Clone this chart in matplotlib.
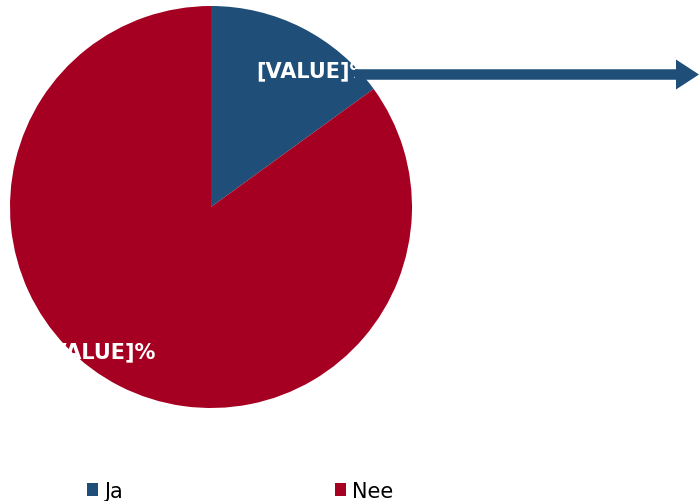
import matplotlib.pyplot as plt
from matplotlib.patches import FancyArrow, Patch

labels = ['Ja', 'Nee']
values = [15, 85]
colors = ['#1F4E79', '#A50021']
value_texts = ['[VALUE]%', '[VALUE]%']
label_pos = [(0.51, 0.68), (-0.56, -0.72)]

W, H = 699, 502
fig = plt.figure(figsize=(W / 100, H / 100), dpi=100)

# pie axes, placed in pixels
cx, cy, r = 211, 208, 201
ax = fig.add_axes([(cx - r) / W, (H - cy - r) / H, 2 * r / W, 2 * r / H])
ax.pie(values, colors=colors, startangle=90, counterclock=False,
       wedgeprops=dict(linewidth=0))
ax.set_xlim(-1, 1)
ax.set_ylim(-1, 1)
ax.set_aspect('equal')
ax.axis('off')

for txt, (x, y) in zip(value_texts, label_pos):
    ax.text(x, y, txt, color='white', fontsize=15, fontweight='bold',
            ha='center', va='center', clip_on=False)

# arrow overlay in pixel coords
ov = fig.add_axes([0, 0, 1, 1], zorder=5)
ov.set_xlim(0, W)
ov.set_ylim(H, 0)
ov.axis('off')
ov.patch.set_alpha(0)
ov.add_patch(FancyArrow(355, 75.5, 321, 0, width=10.5, head_width=30,
                        head_length=23, length_includes_head=False,
                        color='#1F4E79', linewidth=0))

handles = [Patch(facecolor=c, edgecolor='none') for c in colors]
fig.legend(handles, labels, loc='lower left', bbox_to_anchor=(87 / W, 0),
           ncol=2, frameon=False, fontsize=15, handlelength=0.55,
           handleheight=0.55, handletextpad=0.25, columnspacing=10.2,
           borderpad=0, borderaxespad=0)

fig.savefig('out.png', dpi=100)
